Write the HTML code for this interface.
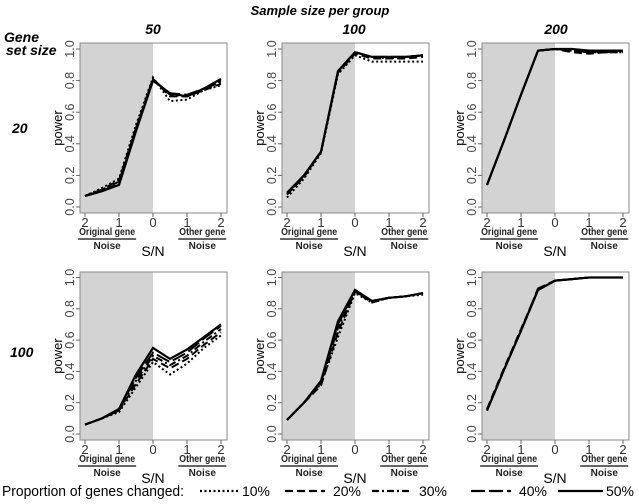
<!DOCTYPE html>
<html><head><meta charset="utf-8">
<style>
body{margin:0;background:#fff;width:639px;height:504px;overflow:hidden;font-family:"Liberation Sans",Arial,sans-serif}
svg{display:block}
</style></head><body>
<svg id="c" width="639" height="504" xmlns="http://www.w3.org/2000/svg">
<text x="320" y="15" text-anchor="middle" font-size="13" font-weight="bold" font-style="italic">Sample size per group</text>
<text x="4" y="42" font-size="14" font-weight="bold" font-style="italic">Gene</text>
<text x="6" y="55" font-size="14" font-weight="bold" font-style="italic">set size</text>
<text x="12" y="133" font-size="14" font-weight="bold" font-style="italic">20</text>
<text x="10" y="357" font-size="14" font-weight="bold" font-style="italic">100</text>
<text x="153" y="34" text-anchor="middle" font-size="14" font-weight="bold" font-style="italic">50</text>
<text x="354" y="34" text-anchor="middle" font-size="14" font-weight="bold" font-style="italic">100</text>
<text x="556" y="34" text-anchor="middle" font-size="14" font-weight="bold" font-style="italic">200</text>
<g id="panels"></g>
<g id="legend">
<text x="2" y="496" font-size="14.5" textLength="182" lengthAdjust="spacingAndGlyphs">Proportion of genes changed:</text>
</g>
</svg>
<script>
const xValues=[-2,-1.5,-1,-0.5,0,0.5,1,1.5,2];
const seriesNames=["10%","20%","30%","40%","50%"];
const xTickLabels=["2","1","0","1","2"];
const xTickValues=[-2,-1,0,1,2];
const yTickValues=[0,0.2,0.4,0.6,0.8,1.0];
const yTickLabels=["0.0","0.2","0.4","0.6","0.8","1.0"];
// panel data: [10%,20%,30%,40%,50%]
const p20_50=[[0.07,0.12,0.18,0.52,0.82,0.67,0.68,0.74,0.77],[0.07,0.11,0.17,0.50,0.81,0.70,0.70,0.74,0.78],[0.07,0.11,0.16,0.50,0.81,0.71,0.70,0.75,0.79],[0.07,0.10,0.15,0.49,0.80,0.72,0.71,0.75,0.80],[0.07,0.10,0.14,0.48,0.80,0.72,0.70,0.75,0.81]];
const p20_100=[[0.06,0.18,0.34,0.84,0.96,0.92,0.92,0.92,0.92],[0.08,0.19,0.35,0.85,0.97,0.94,0.94,0.94,0.95],[0.08,0.2,0.35,0.86,0.98,0.95,0.94,0.95,0.96],[0.09,0.2,0.35,0.86,0.98,0.95,0.95,0.95,0.96],[0.09,0.2,0.35,0.86,0.98,0.95,0.95,0.95,0.96]];
const p20_200=[[0.14,0.42,0.71,0.99,1.0,0.99,0.98,0.98,0.98],[0.14,0.42,0.71,0.99,1.0,0.98,0.97,0.98,0.98],[0.14,0.42,0.71,0.99,1.0,0.99,0.98,0.98,0.99],[0.14,0.42,0.71,0.99,1.0,0.99,0.98,0.99,0.99],[0.14,0.42,0.71,0.99,1.0,1.0,0.99,0.99,0.99]];
const p100_50=[[0.06,0.10,0.14,0.30,0.46,0.38,0.45,0.55,0.63],[0.06,0.10,0.15,0.32,0.48,0.42,0.48,0.57,0.65],[0.06,0.10,0.15,0.34,0.50,0.44,0.50,0.59,0.67],[0.06,0.10,0.16,0.36,0.52,0.46,0.52,0.61,0.69],[0.06,0.10,0.16,0.38,0.55,0.48,0.54,0.62,0.70]];
const p100_100=[[0.09,0.2,0.32,0.62,0.90,0.84,0.87,0.88,0.89],[0.09,0.2,0.31,0.65,0.91,0.84,0.87,0.88,0.90],[0.09,0.2,0.33,0.68,0.91,0.85,0.87,0.88,0.90],[0.09,0.2,0.33,0.70,0.92,0.85,0.87,0.88,0.90],[0.09,0.2,0.34,0.72,0.92,0.85,0.87,0.88,0.90]];
const p100_200=[[0.15,0.41,0.66,0.92,0.98,0.99,1.0,1.0,1.0],[0.16,0.42,0.67,0.92,0.98,0.99,1.0,1.0,1.0],[0.15,0.41,0.66,0.92,0.98,0.99,1.0,1.0,1.0],[0.15,0.41,0.66,0.93,0.98,0.99,1.0,1.0,1.0],[0.15,0.41,0.66,0.92,0.98,0.99,1.0,1.0,1.0]];
const panelData=[p20_50,p20_100,p20_200,p100_50,p100_100,p100_200];
const panelNames=["20-50","20-100","20-200","100-50","100-100","100-200"];

const dashes=["2,2.5","8,4","7,3,2,3","14,4",""];
const NS="http://www.w3.org/2000/svg";
const colLeft=[80,282,482];
const rowTop=[43,272];
const rowBottom=[213,440];
const rowY0=[207,434], rowY1=[49,277.5];
function el(tag,attrs,parent){const e=document.createElementNS(NS,tag);for(const k in attrs)e.setAttribute(k,attrs[k]);parent.appendChild(e);return e;}
const G=document.getElementById('panels');
panelData.forEach((data,pi)=>{
  const r=Math.floor(pi/3),c=pi%3;
  const L=colLeft[c],R=L+147,T=rowTop[r],B=rowBottom[r];
  const xs=v=>L+73+v*34;
  const ys=v=>rowY0[r]-(rowY0[r]-rowY1[r])*v;
  const g=el('g',{},G);
  
  
  const sh=el('rect',{x:L,y:T,width:xs(0)-L,height:B-T,fill:'#d3d3d3'},g);
  
  
  const fr=el('rect',{x:L,y:T,width:R-L,height:B-T,fill:'none',stroke:'#888','stroke-width':1},g);
  
  
  yTickValues.forEach((v,i)=>{
    el('line',{x1:L-4,x2:L,y1:ys(v),y2:ys(v),stroke:'#666'},g);
    const t=el('text',{x:0,y:0,'font-size':12.5,fill:'#444','text-anchor':'middle',transform:`translate(${L-6},${ys(v)}) rotate(-90)`},g);
    t.textContent=yTickLabels[i];
    
    
  });
  const yl=el('text',{x:0,y:0,'font-size':13,'text-anchor':'middle',transform:`translate(${L-18},${(T+B)/2}) rotate(-90)`},g);
  yl.textContent='power';
  
  
  xTickValues.forEach((v,i)=>{
    el('line',{x1:xs(v),x2:xs(v),y1:B,y2:B+4,stroke:'#666'},g);
    const t=el('text',{x:xs(v),y:B+14,'font-size':13,fill:'#333','text-anchor':'middle'},g);
    t.textContent=xTickLabels[i];
    
    
  });
  [[xs(-1.35),'Original gene','original-gene-noise-label',56],[xs(1.45),'Other gene','other-gene-noise-label',46]].forEach(a=>{
    const t=el('text',{x:a[0],y:B+22,'font-size':10,'font-weight':'bold','text-anchor':'middle',fill:'#222',textLength:a[3],lengthAdjust:'spacingAndGlyphs'},g);
    t.textContent=a[1];
    
    
    el('line',{x1:a[0]-a[3]/2-1,x2:a[0]+a[3]/2+1,y1:B+26,y2:B+26,stroke:'#333','stroke-width':1.5},g);
    const n=el('text',{x:a[0],y:B+36,'font-size':10,'font-weight':'bold','text-anchor':'middle',fill:'#222'},g);
    n.textContent='Noise';
    
    
  });
  const sn=el('text',{x:xs(0),y:B+43,'font-size':14,'text-anchor':'middle'},g);
  sn.textContent='S/N';
  
  
  data.forEach((s,si)=>{
    const d=s.map((v,i)=>(i?'L':'M')+xs(xValues[i]).toFixed(1)+','+ys(v).toFixed(1)).join('');
    const p=el('path',{d:d,fill:'none',stroke:'#000','stroke-width':si==4?2.2:2,'stroke-dasharray':dashes[si]},g);
    
    
  });
});
const LG=document.getElementById('legend');
const legX=[[200,238,242],[285,325,333],[372,412,419],[471,511,519],[558,603,606]];
seriesNames.forEach((n,i)=>{
  const ln=el('line',{x1:legX[i][0],x2:legX[i][1],y1:491,y2:491,stroke:'#000','stroke-width':2.2,'stroke-dasharray':dashes[i]},LG);
  
  
  const t=el('text',{x:legX[i][2],y:496,'font-size':14,textLength:28,lengthAdjust:'spacingAndGlyphs'},LG);
  t.textContent=n;
  
  
});
</script>
</body></html>
